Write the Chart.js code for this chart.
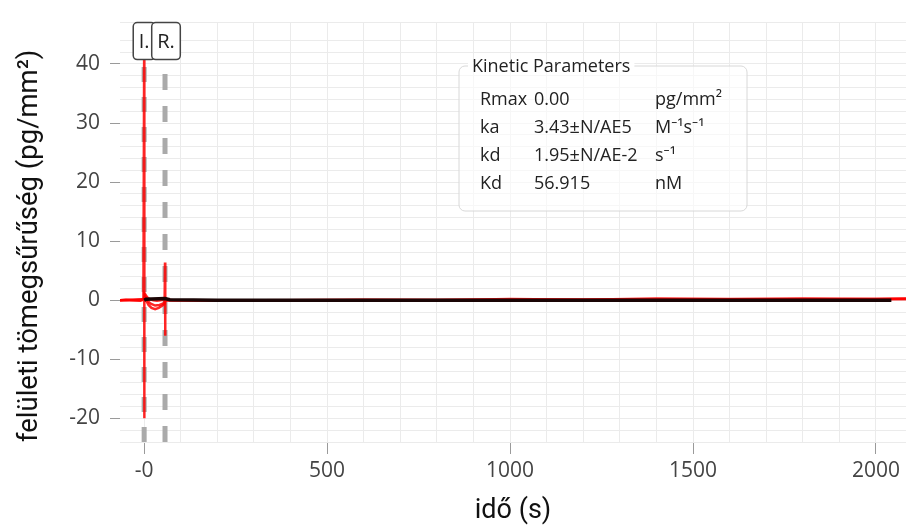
<!DOCTYPE html>
<html>
<head>
<meta charset="utf-8">
<script src="https://cdn.jsdelivr.net/npm/chart.js@4"></script>
<style>
  body { margin: 0; background: #fff; }
  #wrap { width: 908px; height: 531px; }
</style>
</head>
<body>
<div id="wrap"><canvas id="chart" width="908" height="531"></canvas></div>
<script>
const redTime1 = [-66, -50, -30, -10, -2, 0, 0.3, 0.8, 3, 8, 15, 25, 35, 45, 52, 56, 57, 57.4, 58, 62, 100, 200, 400, 600, 800, 1000, 1200, 1400, 1600, 1800, 2000, 2082];
const redVal1  = [0, 0.1, 0, -0.1, 0.1, 42, -20, 0.4, 1.0, 0.5, 0.2, 0, -0.1, 0, 0.1, 0.2, 6.4, -6, 0.2, 0, 0, -0.1, 0, 0.1, 0, 0.2, 0.1, 0.3, 0.2, 0.3, 0.2, 0.3];
const redTime2 = [-66, -10, 0, 1, 5, 12, 20, 30, 40, 50, 56, 57, 58, 80, 300, 1000, 2082];
const redVal2  = [0, 0, 0.3, 0.6, 0, -0.8, -1.3, -1.5, -1.3, -0.9, -0.6, 0, 0.1, 0, 0, 0.1, 0.2];
const redTime3 = [-66, 0, 2, 8, 18, 30, 42, 54, 57, 70, 500, 1500, 2082];
const redVal3  = [0, 0.2, 0.8, 0, -0.6, -0.9, -0.8, -0.5, 0, 0, 0, 0.1, 0.2];

// fitted curve (black)
const fitTime = [0, 5, 20, 40, 57, 70, 200, 1000, 2042];
const fitVal  = [0, 0.15, 0.2, 0.25, 0.3, 0.1, 0, 0, 0];

// injection / rinse markers
const markerTimes  = [0, 57];
const markerLabels = ['I.', 'R.'];

// kinetic parameter panel
const paramNames  = ['Rmax', 'ka', 'kd', 'Kd'];
const paramValues = ['0.00', '3.43±N/AE5', '1.95±N/AE-2', '56.915'];
const paramUnits  = ['pg/mm²', 'M⁻¹s⁻¹', 's⁻¹', 'nM'];

const xMin = -66, xMax = 2082, yMin = -24, yMax = 47;

function pairs(ts, vs) {
    return ts.map(function(t, i) { return {x: t, y: vs[i]}; });
}

const FONT = "'Open Sans', 'Noto Sans', sans-serif";
const TITLE_FONT = "Roboto, 'Liberation Sans', sans-serif";

const overlay = {
    id: 'overlay',
    afterDatasetsDraw(chart) {
        const ctx = chart.ctx;
        const area = chart.chartArea;
        const xs = chart.scales.x;
        ctx.save();
        // marker label boxes
        ctx.font = '20px ' + FONT;
        ctx.textAlign = 'center';
        ctx.textBaseline = 'middle';
        markerTimes.forEach(function(t, i) {
            const px = xs.getPixelForValue(t);
            const w = ctx.measureText(markerLabels[i]).width + 11;
            const h = 37;
            const left = px - w / 2 + (i === 1 ? 1 : 0);
            ctx.beginPath();
            ctx.roundRect(left, area.top, w, h, 4);
            ctx.fillStyle = '#fff';
            ctx.fill();
            ctx.lineWidth = 1.5;
            ctx.strokeStyle = '#444';
            ctx.stroke();
            ctx.fillStyle = '#222';
            ctx.fillText(markerLabels[i], left + w / 2, area.top + h / 2 + 1);
        });

        // kinetic parameters panel
        const bx = 459, by = 66, bw = 288, bh = 145;
        ctx.beginPath();
        ctx.roundRect(bx, by, bw, bh, 6);
        ctx.fillStyle = 'rgba(255,255,255,0.6)';
        ctx.fill();
        ctx.lineWidth = 1;
        ctx.strokeStyle = '#d8d8d8';
        ctx.stroke();
        ctx.font = '18px ' + FONT;
        ctx.textAlign = 'left';
        const tw = ctx.measureText('Kinetic Parameters').width;
        ctx.fillStyle = '#fff';
        ctx.fillRect(bx + 9, by - 4, tw + 8, 8);
        ctx.fillStyle = '#222';
        ctx.fillText('Kinetic Parameters', bx + 13, by + 1);
        ctx.font = '18px ' + FONT;
        paramNames.forEach(function(n, i) {
            const y = 100 + i * 28;
            ctx.fillText(n, 480, y);
            ctx.fillText(paramValues[i], 534, y);
            ctx.fillText(paramUnits[i], 655, y);
        });
        ctx.restore();
    }
};

const redStyle = {
    showLine: true,
    pointRadius: 0,
    borderColor: 'rgba(255,0,0,0.85)',
    borderWidth: 2.5,
    fill: false,
    order: 1,
};

const data = {
    datasets: [
        Object.assign({ data: pairs(fitTime, fitVal) }, {
            showLine: true, pointRadius: 0, borderColor: '#1a0505', borderWidth: 3.5, order: 0
        }),
        Object.assign({ data: pairs(redTime1, redVal1) }, redStyle),
        Object.assign({ data: pairs(redTime2, redVal2) }, redStyle),
        Object.assign({ data: pairs(redTime3, redVal3) }, redStyle),
        {
            data: [{x: markerTimes[0], y: yMin}, {x: markerTimes[0], y: 41}],
            showLine: true, pointRadius: 0, borderColor: '#aaaaaa', borderWidth: 5,
            borderDash: [15, 15], order: 2
        },
        {
            data: [{x: markerTimes[1], y: yMin}, {x: markerTimes[1], y: 41}],
            showLine: true, pointRadius: 0, borderColor: '#aaaaaa', borderWidth: 5,
            borderDash: [16, 16], order: 2
        },
    ],
};

function isStep(v, step) {
    return Math.abs(Math.round(v) % step) === 0;
}

const config = {
    type: 'scatter',
    data: data,
    options: {
        responsive: false,
        animation: false,
        layout: { padding: { left: 10, top: 12, right: 2, bottom: 0 } },
        plugins: { legend: { display: false }, tooltip: { enabled: false } },
        scales: {
            x: {
                type: 'linear',
                min: xMin,
                max: xMax,
                afterFit: function(scale) { scale.height = 89; },
                border: { display: false },
                grid: {
                    color: '#ebebeb',
                    tickLength: 12,
                    tickColor: function(c) {
                        return (c.tick && isStep(c.tick.value, 500)) ? '#9a9a9a' : 'rgba(0,0,0,0)';
                    },
                },
                ticks: {
                    stepSize: 100,
                    includeBounds: false,
                    maxRotation: 0,
                    autoSkip: false,
                    padding: 4,
                    color: '#444',
                    font: { family: FONT, size: 21 },
                    callback: function(v) {
                        const r = Math.round(v);
                        if (r === 0) return '-0';
                        return isStep(r, 500) ? String(r) : '';
                    },
                },
                title: {
                    display: true,
                    text: 'idő (s)',
                    color: '#111',
                    font: { family: TITLE_FONT, size: 27 },
                },
            },
            y: {
                min: yMin,
                max: yMax,
                afterFit: function(scale) { scale.width = 110; },
                border: { display: false },
                grid: {
                    color: '#ebebeb',
                    tickLength: 10,
                    tickColor: function(c) {
                        return (c.tick && isStep(c.tick.value, 10)) ? '#9a9a9a' : 'rgba(0,0,0,0)';
                    },
                },
                ticks: {
                    stepSize: 2,
                    autoSkip: false,
                    padding: 10,
                    color: '#444',
                    font: { family: FONT, size: 21 },
                    callback: function(v) { return isStep(v, 10) ? String(Math.round(v)) : ''; },
                },
                title: {
                    display: true,
                    align: 'start',
                    text: 'felületi tömegsűrűség (pg/mm²)',
                    color: '#111',
                    font: { family: TITLE_FONT, size: 27.5 },
                },
            },
        },
    },
    plugins: [overlay],
};

const myChart = new Chart(document.getElementById('chart').getContext('2d'), config);
</script>
</body>
</html>
